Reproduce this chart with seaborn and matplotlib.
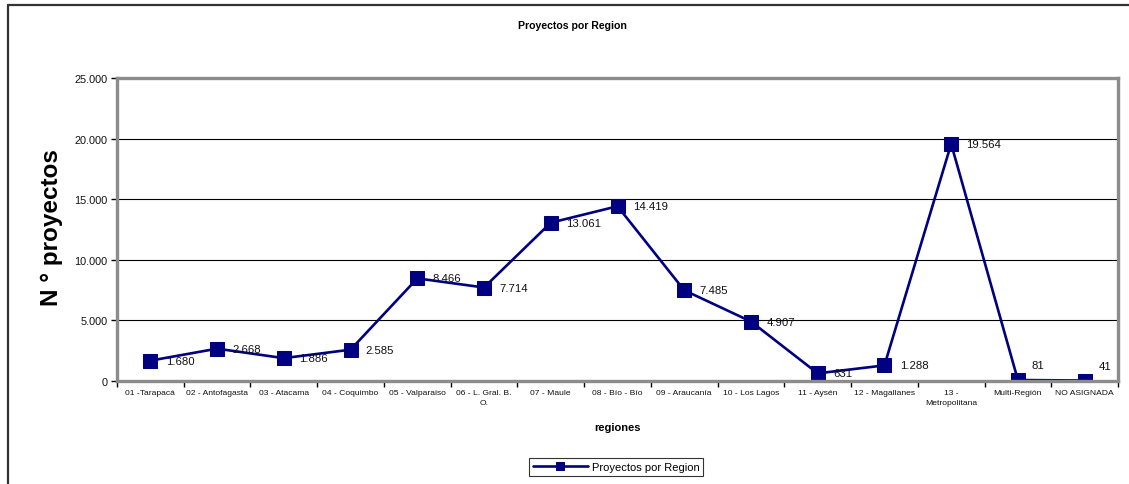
import numpy as np
import pandas as pd
import matplotlib
matplotlib.use("Agg")
import matplotlib.pyplot as plt
from matplotlib.lines import Line2D
from matplotlib.ticker import FuncFormatter, FixedLocator
import seaborn as sns

sns.set_theme(style="white")
plt.rcParams["font.family"] = ["Liberation Sans", "DejaVu Sans"]
plt.rcParams["text.color"] = "black"
plt.rcParams["axes.labelcolor"] = "black"

regiones = [
    "01 -Tarapacá", "02 - Antofagasta", "03 - Atacama", "04 - Coquimbo",
    "05 - Valparaiso", "06 - L. Gral. B.\nO.", "07 - Maule", "08 - Bío - Bío",
    "09 - Araucanía", "10 - Los Lagos", "11 - Aysén", "12 - Magallanes",
    "13 -\nMetropolitana", "Multi-Región", "NO ASIGNADA",
]
proyectos = [1680, 2668, 1886, 2585, 8466, 7714, 13061, 14419, 7485,
             4907, 631, 1288, 19564, 81, 41]
y_ticks = [0, 5000, 10000, 15000, 20000, 25000]

NAVY = "#000080"


def miles(v, pos=None):
    return f"{int(round(v)):,}".replace(",", ".")


df = pd.DataFrame({"pos": np.arange(len(regiones)), "proyectos": proyectos})

fig = plt.figure(figsize=(11.29, 4.85), dpi=100)
ax = fig.add_axes([117 / 1129, 103 / 485, (1118 - 117) / 1129, (382 - 79) / 485])

sns.lineplot(data=df, x="pos", y="proyectos", ax=ax, color=NAVY,
             linewidth=1.9, marker="s", markersize=10.5,
             markeredgecolor=NAVY, markerfacecolor=NAVY,
             label="Proyectos por Region")

# value labels to the right of each point; those sitting on the floor
# are lifted so they stay inside the plot area
for x, v in zip(df["pos"], df["proyectos"]):
    if v < 400:
        ax.annotate(miles(v), (x, v), xytext=(10, 7), textcoords="offset points",
                    ha="left", va="bottom", fontsize=8.2, color="#111111")
    else:
        ax.annotate(miles(v), (x, v), xytext=(11, 0), textcoords="offset points",
                    ha="left", va="center", fontsize=8.2, color="#111111")

ax.set_xlim(-0.5, len(regiones) - 0.5)
ax.set_ylim(0, 25000)

# y axis
ax.yaxis.set_major_locator(FixedLocator(y_ticks))
ax.yaxis.set_major_formatter(FuncFormatter(miles))
ax.tick_params(axis="y", which="major", left=True, length=4, width=1,
               color="black", labelsize=7.8, pad=3, labelcolor="#111111")
ax.grid(axis="y", color="black", linewidth=0.8)
ax.set_axisbelow(True)

# x axis: labels at category centres, tick marks between categories
ax.set_xticks(df["pos"])
ax.set_xticklabels(regiones, fontsize=6.1, color="#111111", linespacing=1.5)
ax.set_xticks(np.arange(-0.5, len(regiones)), minor=True)
ax.tick_params(axis="x", which="major", bottom=False, length=0, pad=6)
ax.tick_params(axis="x", which="minor", bottom=True, length=4, width=1,
               color="black")

for s in ax.spines.values():
    s.set_visible(True)
    s.set_color("#8c8c8c")
    s.set_linewidth(2.4)

ax.set_xlabel("regiones", fontsize=8, fontweight="bold", labelpad=12)
ax.set_ylabel("N ° proyectos", fontsize=17.5, fontweight="bold")
ax.yaxis.set_label_coords(-0.054, 0.51)

fig.text(572 / 1129, 1 - 26 / 485, "Proyectos por Region", ha="center",
         va="center", fontsize=7.6, fontweight="bold")

leg = ax.legend(loc="center", bbox_to_anchor=(616 / 1129, 1 - 468 / 485),
                bbox_transform=fig.transFigure, fontsize=8, frameon=True,
                fancybox=False, edgecolor="black", handlelength=5,
                borderpad=0.35, handletextpad=0.3, borderaxespad=0)
leg.get_frame().set_linewidth(0.8)
for h in leg.legend_handles:
    h.set_markersize(6)

# chart area frame (top and left edges)
fig.add_artist(Line2D([8 / 1129, 8 / 1129], [0, 1 - 6 / 485],
                      transform=fig.transFigure, color="#333333", linewidth=1.6))
fig.add_artist(Line2D([8 / 1129, 1], [1 - 6 / 485, 1 - 6 / 485],
                      transform=fig.transFigure, color="#333333", linewidth=1.6))

fig.savefig("out.png", dpi=100, facecolor="white")
